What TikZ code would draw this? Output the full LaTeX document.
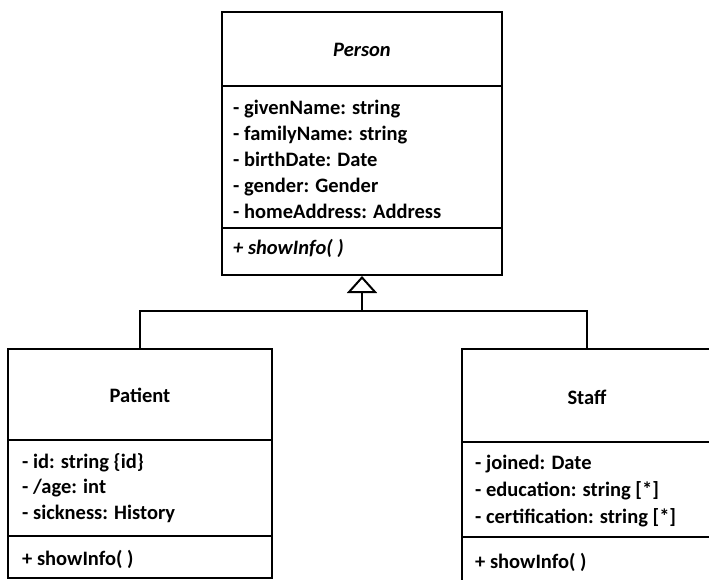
\documentclass[tikz,border=0pt]{standalone}
\usepackage{fontspec}
\setmainfont{Carlito}
\usetikzlibrary{arrows.meta}
\begin{document}
\begin{tikzpicture}[x=1pt,y=-1pt,
  box/.style={draw=black,line width=2pt,rectangle,inner sep=0pt},
  divider/.style={draw=black,line width=2pt},
  title/.style={font=\fontsize{20.5}{20.5}\selectfont\bfseries,inner sep=0pt,anchor=base},
  attr/.style={font=\fontsize{20.5}{20.5}\selectfont\bfseries,inner sep=0pt,anchor=base west},
  conn/.style={draw=black,line width=2pt},
  gen/.style={-{Triangle[open,length=17pt,width=30pt,line width=2pt]}}]
\clip (0,0) rectangle (709,580);
\fill[white] (0,0) rectangle (709,580);
% Person
\node[box,minimum width=280pt,minimum height=263pt] (person) at (362,143.5) {};
\draw[divider] (222,86) -- (502,86);
\draw[divider] (222,228) -- (502,228);
\node[title,font=\fontsize{20.5}{20.5}\selectfont\bfseries\itshape] (pname) at (362,57) {Person};
\node[attr] (p1) at (233,114.5) {- givenName: string};
\node[attr] (p2) at (233,140.5) {- familyName: string};
\node[attr] (p3) at (233,166.5) {- birthDate: Date};
\node[attr] (p4) at (233,192.5) {- gender: Gender};
\node[attr] (p5) at (233,218.5) {- homeAddress: Address};
\node[attr,font=\fontsize{20.5}{20.5}\selectfont\bfseries\itshape] (pm) at (233,254.5) {+ showInfo( )};
% Patient
\node[box,minimum width=264pt,minimum height=229pt] (patient) at (140,463.5) {};
\draw[divider] (8,440) -- (272,440);
\draw[divider] (8,536) -- (272,536);
\node[title] (paname) at (140,402) {Patient};
\node[attr] (a1) at (22,468.5) {- id: string \{id\}};
\node[attr] (a2) at (22,493.5) {- /age: int};
\node[attr] (a3) at (22,519.5) {- sickness: History};
\node[attr] (am) at (22,565.5) {+ showInfo( )};
% Staff
\node[box,minimum width=250pt,minimum height=260pt] (staff) at (587,479) {};
\draw[divider] (462,442) -- (712,442);
\draw[divider] (462,537) -- (712,537);
\node[title] (sname) at (587,404) {Staff};
\node[attr] (s1) at (475,469.5) {- joined: Date};
\node[attr] (s2) at (475,496.5) {- education: string [*]};
\node[attr] (s3) at (475,523.5) {- certification: string [*]};
\node[attr] (sm) at (475,568.5) {+ showInfo( )};
% Generalisation
\coordinate (j) at (362,311);
\draw[conn] (patient.north) |- (j) -| (staff.north);
\draw[conn,gen] (j) -- (person.south);
\end{tikzpicture}
\end{document}
